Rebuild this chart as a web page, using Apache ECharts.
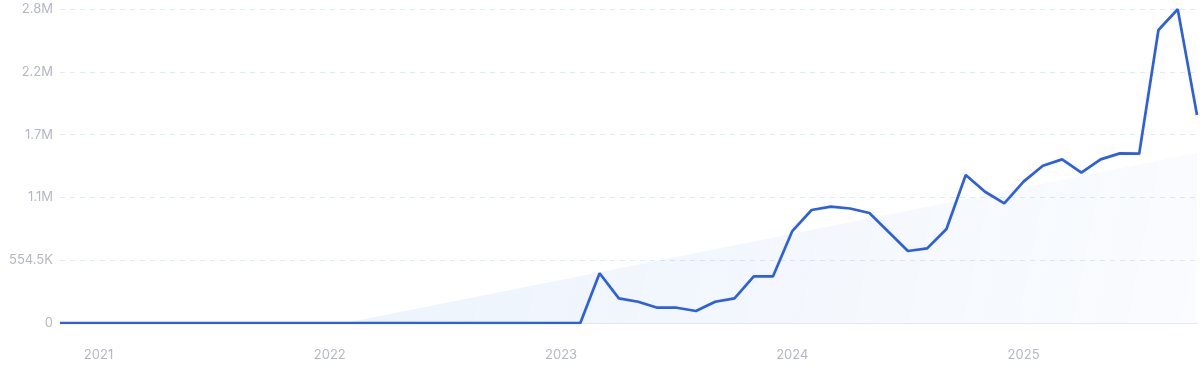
<!DOCTYPE html>
<html>
<head>
<meta charset="utf-8">
<script src="https://cdn.jsdelivr.net/npm/echarts@6/dist/echarts.min.js"></script>
<style>
html,body{margin:0;padding:0;background:#fff;}
#chart{width:1200px;height:372px;}
</style>
</head>
<body>
<div id="chart"></div>
<script>
// Monthly categories Nov 2020 .. Oct 2025
const months = [
  '2020-11','2020-12',
  '2021-01','2021-02','2021-03','2021-04','2021-05','2021-06','2021-07','2021-08','2021-09','2021-10','2021-11','2021-12',
  '2022-01','2022-02','2022-03','2022-04','2022-05','2022-06','2022-07','2022-08','2022-09','2022-10','2022-11','2022-12',
  '2023-01','2023-02','2023-03','2023-04','2023-05','2023-06','2023-07','2023-08','2023-09','2023-10','2023-11','2023-12',
  '2024-01','2024-02','2024-03','2024-04','2024-05','2024-06','2024-07','2024-08','2024-09','2024-10','2024-11','2024-12',
  '2025-01','2025-02','2025-03','2025-04','2025-05','2025-06','2025-07','2025-08','2025-09','2025-10'
];
const searchVolume = [
  0,0,
  0,0,0,0,0,0,0,0,0,0,0,0,
  0,0,0,0,0,0,0,0,0,0,0,0,
  0,0,439000,218000,188000,135000,135000,106000,188000,218000,412000,412000,
  812000,998000,1027000,1011000,971000,803000,636000,659000,830000,1307000,1159000,1057000,
  1248000,1389000,1445000,1327000,1445000,1498000,1495000,2587000,2770000,1836000
];
// Trend line endpoints (first and last month)
const trendStart = -502000;
const trendEnd = 1500000;
const yTickLabels = ['0','554.5K','1.1M','1.7M','2.2M','2.8M'];
const yStep = 554500;

const trendData = months.map((m, i) => i === 0 ? trendStart : (i === months.length - 1 ? trendEnd : null));

const chart = echarts.init(document.getElementById('chart'));
chart.setOption({
  animation: false,
  grid: { left: 60, right: 3, top: 9, bottom: 49, containLabel: false },
  xAxis: {
    type: 'category',
    data: months,
    boundaryGap: false,
    axisLine: { show: true, lineStyle: { color: '#e4e6f5', width: 1 } },
    axisTick: { show: false },
    splitLine: { show: false },
    axisLabel: {
      interval: (idx, val) => val.endsWith('-01'),
      formatter: (val) => val.slice(0, 4),
      color: '#b4b8c2',
      fontFamily: 'Inter',
      fontSize: 13,
      margin: 26
    }
  },
  yAxis: {
    type: 'value',
    min: 0,
    max: yStep * 5,
    interval: yStep,
    axisLine: { show: false },
    axisTick: { show: false },
    splitLine: { show: true, lineStyle: { color: '#d9ecf8', type: [5, 5], width: 1 } },
    axisLabel: {
      formatter: (v) => yTickLabels[Math.round(v / yStep)],
      color: '#b4b8c2',
      fontFamily: 'Inter',
      fontSize: 13,
      margin: 7
    }
  },
  series: [
    {
      type: 'line',
      data: trendData,
      connectNulls: true,
      symbol: 'none',
      lineStyle: { width: 0, opacity: 0 },
      clip: true,
      areaStyle: {
        origin: 0,
        color: new echarts.graphic.LinearGradient(0, 0, 1, 1, [
          { offset: 0, color: 'rgba(59,130,230,0.16)' },
          { offset: 1, color: 'rgba(59,130,230,0.04)' }
        ])
      },
      z: 1
    },
    {
      type: 'line',
      data: searchVolume,
      symbol: 'none',
      lineStyle: { color: '#2d60e0', width: 2.7 },
      z: 3
    }
  ]
});
</script>
</body>
</html>
